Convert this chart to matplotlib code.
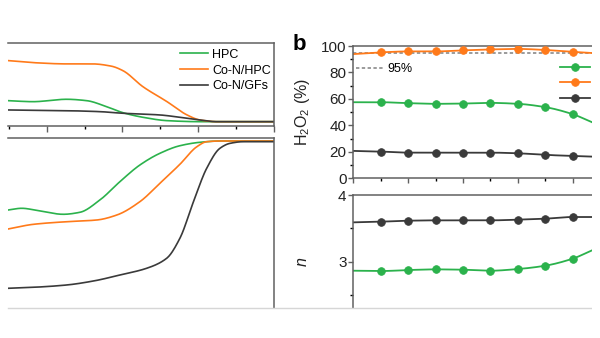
import numpy as np
import matplotlib
matplotlib.use("Agg")
import matplotlib.pyplot as plt
from matplotlib.lines import Line2D
from matplotlib.patches import Rectangle

plt.rcParams['font.family'] = ['Liberation Sans', 'DejaVu Sans']
plt.rcParams['mathtext.default'] = 'regular'

# ---------------- data ----------------
GREEN = '#2bb24c'
ORANGE = '#ff7a1a'
BLACK = '#3a3a3a'
labels = ['HPC', 'Co-N/HPC', 'Co-N/GFs']

# panel a, top: ring current (arb.)
ring_hpc_x = [0.097, 0.163, 0.252, 0.305, 0.358, 0.401, 0.454, 0.518, 0.605, 0.800]
ring_hpc_y = [0.350, 0.333, 0.373, 0.350, 0.250, 0.150, 0.073, 0.017, 0.0, 0.0]
ring_conhpc_x = [0.097, 0.163, 0.252, 0.320, 0.370, 0.401, 0.454, 0.518, 0.571, 0.605, 0.650, 0.800]
ring_conhpc_y = [1.017, 0.983, 0.962, 0.962, 0.925, 0.850, 0.583, 0.333, 0.112, 0.028, 0.0, 0.0]
ring_cogf_x = [0.097, 0.252, 0.340, 0.401, 0.499, 0.552, 0.605, 0.650, 0.800]
ring_cogf_y = [0.195, 0.183, 0.167, 0.140, 0.112, 0.073, 0.028, 0.0, 0.0]

# panel a, bottom: disk current (arb.)
disk_hpc_x = [0.097, 0.133, 0.181, 0.243, 0.287, 0.340, 0.393, 0.446, 0.499, 0.552, 0.605, 0.658, 0.800]
disk_hpc_y = [-2.30, -2.243, -2.333, -2.443, -2.377, -1.967, -1.357, -0.80, -0.41, -0.157, -0.043, 0.0, 0.0]
disk_conhpc_x = [0.097, 0.164, 0.252, 0.332, 0.385, 0.446, 0.499, 0.552, 0.597, 0.623, 0.658, 0.800]
disk_conhpc_y = [-2.933, -2.777, -2.69, -2.633, -2.467, -2.023, -1.41, -0.777, -0.19, -0.023, 0.0, 0.0]
disk_cogf_x = [0.097, 0.164, 0.252, 0.323, 0.393, 0.464, 0.517, 0.552, 0.588, 0.623, 0.658, 0.685, 0.720, 0.800]
disk_cogf_y = [-4.91, -4.877, -4.80, -4.667, -4.467, -4.243, -3.91, -3.243, -2.023, -0.91, -0.243, -0.077, -0.023, -0.023]

# panel b
pot_markers = [0.1, 0.2, 0.3, 0.4, 0.5, 0.6, 0.7, 0.8]
pot_start, pot_end = 0.0, 0.871
h2o2_hpc = [57.5, 56.8, 56.3, 56.5, 57.0, 56.3, 53.8, 48.5]
h2o2_hpc_ends = [57.5, 42.4]
h2o2_conhpc = [95.2, 95.9, 95.9, 96.7, 97.4, 97.8, 97.0, 95.6]
h2o2_conhpc_ends = [93.9, 94.7]
h2o2_cogf = [20.2, 19.4, 19.4, 19.4, 19.4, 18.9, 17.7, 16.9]
h2o2_cogf_ends = [20.7, 16.4]
n_hpc = [2.86, 2.875, 2.885, 2.88, 2.865, 2.89, 2.94, 3.045]
n_hpc_ends = [2.865, 3.17]
n_cogf = [3.60, 3.615, 3.62, 3.62, 3.62, 3.63, 3.645, 3.67]
n_cogf_ends = [3.59, 3.67]
ref_level = 95


def pchip(x, y, n=300):
    x = np.asarray(x, float); y = np.asarray(y, float)
    h = np.diff(x); d = np.diff(y) / h
    m = np.zeros_like(y)
    m[0] = d[0]; m[-1] = d[-1]
    for k in range(1, len(x) - 1):
        if d[k - 1] * d[k] <= 0:
            m[k] = 0.0
        else:
            w1 = 2 * h[k] + h[k - 1]; w2 = h[k] + 2 * h[k - 1]
            m[k] = (w1 + w2) / (w1 / d[k - 1] + w2 / d[k])
    xs = np.linspace(x[0], x[-1], n)
    idx = np.clip(np.searchsorted(x, xs) - 1, 0, len(x) - 2)
    t = (xs - x[idx]) / h[idx]
    h00 = 2 * t**3 - 3 * t**2 + 1; h10 = t**3 - 2 * t**2 + t
    h01 = -2 * t**3 + 3 * t**2; h11 = t**3 - t**2
    ys = h00 * y[idx] + h10 * h[idx] * m[idx] + h01 * y[idx + 1] + h11 * h[idx] * m[idx + 1]
    return xs, ys


W, H = 600, 338
fig = plt.figure(figsize=(6, 3.38), dpi=100)


def ax_px(l, t, r, b):
    return fig.add_axes([l / W, 1 - b / H, (r - l) / W, (b - t) / H])


SP = '#606060'
axA = ax_px(8, 43, 273.5, 125.7)
axB = ax_px(8, 137.5, 273.5, 308)
axC = ax_px(353.5, 46, 592, 178.3)
axD = ax_px(353.5, 195, 592, 308)

for ax in (axA, axB, axC, axD):
    for s in ax.spines.values():
        s.set_color(SP)
        s.set_linewidth(1.1)
    ax.tick_params(colors=SP, labelcolor='#222222', direction='out')

# ---- panel a top
for xs_, ys_, c, lab in ((ring_hpc_x, ring_hpc_y, GREEN, labels[0]),
                         (ring_conhpc_x, ring_conhpc_y, ORANGE, labels[1]),
                         (ring_cogf_x, ring_cogf_y, BLACK, labels[2])):
    xx, yy = pchip(xs_, ys_)
    axA.plot(xx, yy, color=c, lw=1.2, label=lab)
axA.set_xlim(0.0967, 0.8)
axA.set_ylim(-0.067, 1.31)
axA.spines['left'].set_visible(False)
axA.set_xticks([0.2, 0.4, 0.6, 0.8])
axA.set_xticks([0.1, 0.3, 0.5, 0.7], minor=True)
axA.set_yticks([])
axA.tick_params(axis='x', which='major', length=4, width=1, labelbottom=False)
axA.tick_params(axis='x', which='minor', length=2, width=1)
axA.legend(loc='upper left', bbox_to_anchor=(0.648, 0.93), frameon=False,
           fontsize=9, handlelength=2.2, handletextpad=0.35, labelspacing=0.3,
           borderpad=0, borderaxespad=0)

# ---- panel a bottom
for xs_, ys_, c in ((disk_hpc_x, disk_hpc_y, GREEN),
                    (disk_conhpc_x, disk_conhpc_y, ORANGE),
                    (disk_cogf_x, disk_cogf_y, BLACK)):
    xx, yy = pchip(xs_, ys_)
    axB.plot(xx, yy, color=c, lw=1.2)
axB.set_xlim(0.0967, 0.8)
axB.set_ylim(-5.567, 0.117)
axB.spines['left'].set_visible(False)
axB.spines['bottom'].set_visible(False)
axB.set_xticks([]); axB.set_yticks([])

# ---- panel b top
def line_with_markers(ax, vals, ends, c):
    xs_ = [pot_start] + list(pot_markers) + [pot_end]
    ys_ = [ends[0]] + list(vals) + [ends[1]]
    xx, yy = pchip(xs_, ys_)
    ax.plot(xx, yy, color=c, lw=1.3, zorder=2)
    ax.plot(pot_markers, vals, ls='none', marker='o', ms=5.5, mfc=c, mec=c,
            mew=0.6, zorder=3)
    return Line2D([], [], color=c, lw=1.3, marker='o', ms=5.5, mfc=c, mec=c, mew=0.6)

axC.axhline(ref_level, color='#808080', lw=1.1, ls=(0, (2.2, 1.6)), zorder=1)
h1 = line_with_markers(axC, h2o2_hpc, h2o2_hpc_ends, GREEN)
h2 = line_with_markers(axC, h2o2_conhpc, h2o2_conhpc_ends, ORANGE)
h3 = line_with_markers(axC, h2o2_cogf, h2o2_cogf_ends, BLACK)
axC.set_xlim(pot_start, pot_end)
axC.set_ylim(0, 100)
axC.spines['right'].set_visible(False)
axC.set_yticks([0, 20, 40, 60, 80, 100])
axC.set_yticks([10, 30, 50, 70, 90], minor=True)
axC.set_xticks([0, 0.2, 0.4, 0.6, 0.8])
axC.set_xticks([0.1, 0.3, 0.5, 0.7], minor=True)
axC.tick_params(axis='both', which='major', length=3.5, width=1, labelsize=11, pad=1.5)
axC.tick_params(axis='both', which='minor', length=2, width=1)
axC.tick_params(axis='x', labelbottom=False)
axC.set_ylabel('H$_2$O$_2$ (%)', fontsize=11.5, color='#222222')
axC.yaxis.set_label_coords(-0.175, 0.5)

leg_ref = axC.legend([Line2D([], [], color='#808080', lw=1.1, ls=(0, (2.2, 1.6)))],
                     ['%d%%' % ref_level], loc='center left', bbox_to_anchor=(0.01, 0.825),
                     frameon=False, fontsize=9, handlelength=2.3, handletextpad=0.25,
                     borderpad=0, borderaxespad=0)
axC.add_artist(leg_ref)
# legend labels of panel b lie outside the cropped picture; only the keys show
axC.legend([h1, h2, h3], ['', '', ''], loc='upper left', bbox_to_anchor=(0.866, 0.88),
           frameon=False, fontsize=9, handlelength=2.4, handletextpad=0.6,
           labelspacing=0.3, borderpad=0, borderaxespad=0)

# ---- panel b bottom
line_with_markers(axD, n_cogf, n_cogf_ends, BLACK)
line_with_markers(axD, n_hpc, n_hpc_ends, GREEN)
axD.set_xlim(pot_start, pot_end)
axD.set_ylim(2.306, 4)
axD.spines['right'].set_visible(False)
axD.spines['bottom'].set_visible(False)
axD.set_xticks([])
axD.set_yticks([3, 4])
axD.set_yticks([2.5, 3.5], minor=True)
axD.tick_params(axis='y', which='major', length=3.5, width=1, labelsize=11, pad=1.5)
axD.tick_params(axis='y', which='minor', length=2, width=1)
axD.set_ylabel('n', fontsize=11.5, fontstyle='italic', color='#222222')
axD.yaxis.set_label_coords(-0.182, 0.407)

fig.text(293 / W, 1 - 44 / H, 'b', fontsize=16, fontweight='bold', va='center', ha='left')

# crop edges of the original figure
fig.add_artist(Line2D([8 / W, 592 / W], [1 - 308 / H, 1 - 308 / H],
                      color='#d6d6d6', lw=1.0, transform=fig.transFigure, zorder=5))
fig.add_artist(Rectangle((592 / W, 0), 8 / W, 1, transform=fig.transFigure,
                         facecolor='white', edgecolor='none', zorder=10))

fig.savefig('out.png', dpi=100)
